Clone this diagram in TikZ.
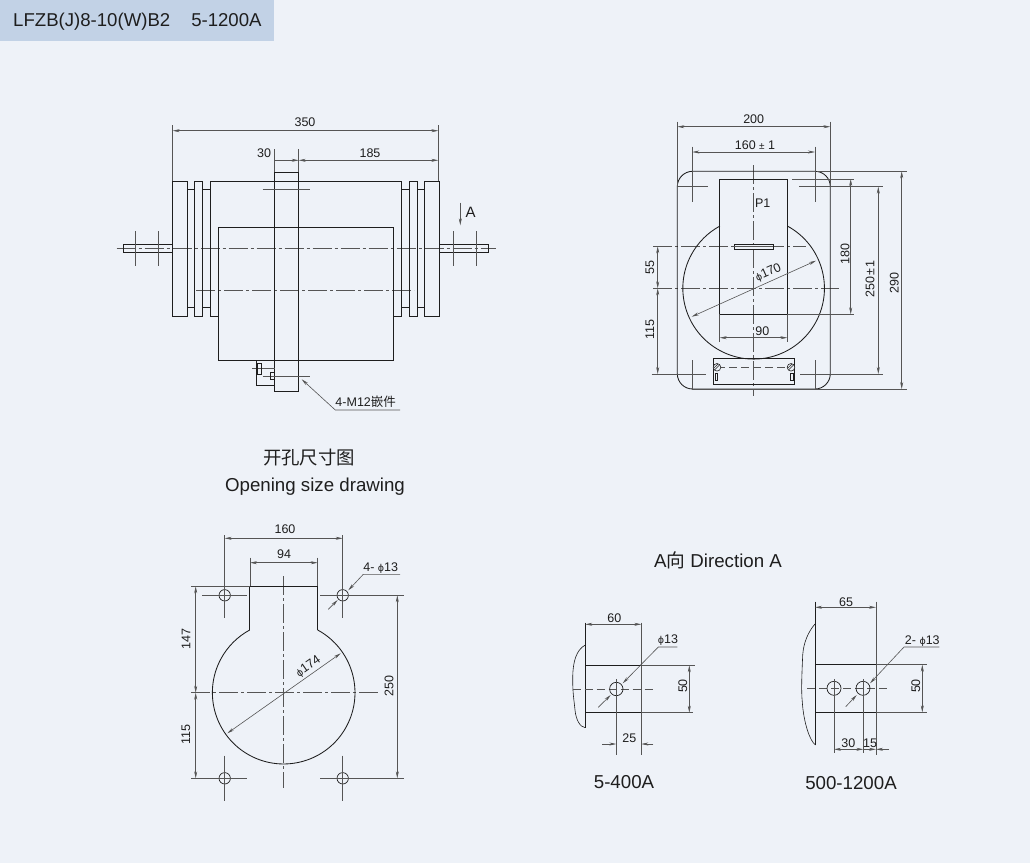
\documentclass[tikz,border=0pt]{standalone}
\usepackage{fontspec}
\setmainfont{Liberation Sans}
\newfontfamily\cjkfont{Noto Sans CJK SC}
\newfontfamily\symbfont{DejaVu Sans}
\newcommand{\dia}{{\symbfont\fontsize{9.5}{10}\selectfont ϕ}}
\usetikzlibrary{arrows.meta}
\definecolor{bgc}{HTML}{EEF2F8}
\definecolor{banner}{HTML}{C2D2E6}
\definecolor{ink}{HTML}{1E1E1E}
\definecolor{soft}{HTML}{555555}
\tikzset{
 obj/.style={draw=ink,line width=.85pt},
 thinl/.style={draw=soft,line width=.6pt},
 ctr/.style={draw=soft,line width=.55pt,dash pattern=on 19pt off 3pt on 3pt off 3pt},
 dsh/.style={draw=soft,line width=.55pt,dash pattern=on 8pt off 4pt},
 dimen/.style={draw=soft,line width=.6pt,{Stealth[length=7pt,width=3pt]}-{Stealth[length=7pt,width=3pt]}},
 arr/.style={draw=soft,line width=.6pt,-{Stealth[length=7pt,width=3pt]}},
 lbl/.style={inner sep=0pt,text=ink,font=\fontsize{12.5}{14}\selectfont},
 vlbl/.style={lbl,rotate=90},
 captxt/.style={inner sep=0pt,text=ink,font=\fontsize{18.7}{21}\selectfont},
}
\begin{document}
\begin{tikzpicture}[x=1pt,y=-1pt]
\useasboundingbox (0,0) rectangle (1030,863);
\fill[bgc] (0,0) rectangle (1030,863);
\fill[banner] (0,0) rectangle (274,41);
\node[captxt,anchor=west,font=\fontsize{18.6}{21}\selectfont] (title) at (13,22) {LFZB(J)8-10(W)B2\hspace{21pt}5-1200A};

% ---------- side view
\draw[ctr] (116.7,248.3) -- (496,248.3);
\draw[ctr] (196,290.3) -- (414,290.3);
\draw[obj] (172.7,181) rectangle (187.3,316.3);
\draw[obj] (194.3,181) rectangle (202.7,316.3);
\draw[obj] (424.7,181) rectangle (439,316.3);
\draw[obj] (409.3,181) rectangle (417.3,316.3);
\draw[obj] (187.3,189) -- (194.3,189) (187.3,307.7) -- (194.3,307.7);
\draw[obj] (202.7,189) -- (210,189) (202.7,307.7) -- (210,307.7);
\draw[obj] (401.7,189) -- (409.3,189) (401.7,307.7) -- (409.3,307.7);
\draw[obj] (417.3,189) -- (424.7,189) (417.3,307.7) -- (424.7,307.7);
\draw[obj] (218,316.3) -- (210,316.3) -- (210,181) -- (401.7,181) -- (401.7,316.3) -- (393.3,316.3);
\draw[obj] (218,227.3) rectangle (393.3,360.3);
\filldraw[obj,fill=none] (274.7,172.3) rectangle (298.7,391);
\draw[obj] (123.3,244) rectangle (172.7,252.7);
\draw[obj] (439,244) rectangle (488.7,252.7);
\draw[thinl] (135,231) -- (135,265.7) (158.7,231) -- (158.7,265.7);
\draw[thinl] (453,231) -- (453,265.7) (476.7,231) -- (476.7,265.7);
\draw[thinl] (262.7,189) -- (310,189);
\draw[thinl] (262.7,376) -- (310,376);
\draw[thinl] (252.3,368.7) -- (274.7,368.7);
\draw[obj,line width=.6pt] (256,360.3) -- (256,385.7) -- (274.7,385.7);
\draw[obj,line width=.6pt] (257,363.3) rectangle (261.3,374);
\draw[obj,line width=.6pt] (274.7,372.3) -- (270.7,372.3) -- (270.7,379.3) -- (274.7,379.3);
\draw[thinl] (172.7,125) -- (172.7,181) (438.3,125) -- (438.3,181);
\draw[dimen] (172.7,130.7) -- (438.3,130.7);
\node[lbl] (d350) at (305,122.3) {350};
\draw[thinl] (274.7,149.3) -- (274.7,172.3) (298.7,149.3) -- (298.7,172.3);
\draw[arr] (274.7,160.3) -- (298.7,160.3);
\draw[dimen] (298.7,160.3) -- (438.3,160.3);
\node[lbl] (d30) at (264,152.7) {30};
\node[lbl] (d185) at (370,152.7) {185};
\draw[arr] (460.3,202.7) -- (460.3,225.3);
\node[lbl,font=\fontsize{15}{17}\selectfont] (dirA) at (470.7,212.7) {A};
\coordinate (lead1) at (400,410);
\coordinate (lead2) at (335.3,410);
\coordinate (lead3) at (301.7,379.3);
\draw[arr] (lead1) -- (lead2) -- (lead3);
\node[lbl] (m12) at (365.7,402) {4-M12{\cjkfont 嵌件}};

% ---------- end view
\draw[ctr] (753.7,165) -- (753.7,396);
\draw[ctr] (653.3,288.3) -- (839.3,288.3);
\draw[ctr] (653.3,246.3) -- (805.7,246.3);
\draw[obj] (692.3,171.3) -- (815,171.3) arc[start angle=-90,end angle=0,radius=15.3] -- (830.3,373.7) arc[start angle=0,end angle=90,radius=15.3] -- (692.6,389) arc[start angle=90,end angle=180,radius=15.3] -- (677.3,186.6) arc[start angle=180,end angle=270,radius=15.3] -- cycle;
\draw[obj] (719.7,179) rectangle (787.3,314.3);
\draw[obj] (787.3,226) arc[start angle=-61.6,end angle=241.6,radius=70.8];
\fill[bgc] (734.3,244) rectangle (773.3,249.7);
\draw[obj] (734.3,244) rectangle (773.3,249.7);
\draw[thinl] (734.3,246.3) -- (773.3,246.3);
\draw[obj] (713.3,358.3) rectangle (794,384.3);
\draw[dsh] (717,367.3) -- (791,367.3);
\draw[obj,line width=.6pt] (715,373.3) rectangle (717.7,380);
\draw[obj,line width=.6pt] (790,373.3) rectangle (793,380);
\draw[obj,line width=.6pt,fill=bgc] (717,367.3) circle[radius=3.8] (791,367.3) circle[radius=3.8];
\draw[obj,line width=.5pt] (714.5,370) -- (719.5,365) (713.8,368) -- (718,364) (788.5,370) -- (793.5,365) (787.8,368) -- (792,364);
\draw[thinl] (677.3,186.7) -- (707.7,186.7) (799.3,186.7) -- (882.7,186.7);
\draw[thinl] (651.7,374) -- (706,374) (800,374) -- (882.7,374);
\draw[thinl] (692.3,146.7) -- (692.3,201.7) (815,146.7) -- (815,201.7);
\draw[thinl] (692.3,360) -- (692.3,389) (815,360) -- (815,389);
\draw[thinl] (677.3,121.7) -- (677.3,186.7) (830.3,121.7) -- (830.3,186.7);
\draw[dimen] (677.3,126.7) -- (830.3,126.7);
\node[lbl] (e200) at (753.7,119) {200};
\draw[dimen] (692.3,152) -- (815,152);
\node[lbl] (e160) at (755,144.7) {160 {\fontsize{10}{10}\selectfont ±} 1};
\draw[thinl] (792.3,179) -- (854,179) (787.3,314.3) -- (854,314.3);
\draw[dimen] (850.7,179) -- (850.7,314.3);
\node[vlbl] (e180) at (845,254) {180};
\draw[dimen] (878.3,186.7) -- (878.3,374);
\node[vlbl] (e250) at (870,279.3) {250\kern1pt±\kern1pt1};
\draw[thinl] (816.7,171.3) -- (907.3,171.3) (692.3,389) -- (907.3,389);
\draw[dimen] (901.7,171.3) -- (901.7,389);
\node[vlbl] (e290) at (894.3,282.7) {290};
\draw[dimen] (657.7,246.3) -- (657.7,288.3);
\node[vlbl] (e55) at (650,267.3) {55};
\draw[dimen] (657.7,288.3) -- (657.7,374);
\node[vlbl] (e115) at (650,330) {115};
\draw[thinl] (719.7,314.3) -- (719.7,341.7) (787.3,314.3) -- (787.3,341.7);
\draw[dimen] (719.7,337.7) -- (787.3,337.7);
\node[lbl] (e90) at (762.3,331) {90};
\draw[dimen] (691.7,316.7) -- (816,260.7);
\node[lbl,rotate=24] (e170) at (768.3,272.7) {\dia170};
\node[lbl] (p1) at (762.7,203.3) {P1};

% ---------- captions
\node[captxt,font=\fontsize{18.4}{21}\cjkfont\selectfont] (c1) at (309,458) {开孔尺寸图};
\node[captxt] (c2) at (315,486.5) {Opening size drawing};
\node[captxt] (c3) at (718,560) {A{\cjkfont 向} Direction A};
\node[captxt] (c4) at (624,782) {5-400A};
\node[captxt] (c5) at (851,783) {500-1200A};

% ---------- opening
\draw[ctr] (283.7,576) -- (283.7,788.3);
\draw[ctr] (191,692.7) -- (378.3,692.7);
\draw[obj] (249.7,630) -- (249.7,586.3) -- (317.7,586.3) -- (317.7,630);
\draw[obj] (317.7,630) arc[start angle=-61.5,end angle=241.5,radius=71.3];
\foreach \n/\x/\y in {a/224.7/595.3,b/342.7/595.3,c/224.7/778.3,d/342.7/778.3}
  \draw[obj,line width=.7pt] (\x,\y) circle[radius=5.7];
\draw[thinl] (202,595.3) -- (246.7,595.3) (224.7,535) -- (224.7,617.7);
\draw[thinl] (320,595.3) -- (404,595.3) (342.7,535) -- (342.7,617.7);
\draw[thinl] (191,778.3) -- (246.7,778.3) (224.7,755.7) -- (224.7,800.7);
\draw[thinl] (320,778.3) -- (404,778.3) (342.7,755.7) -- (342.7,800.7);
\draw[dimen] (224.7,538.3) -- (342.7,538.3);
\node[lbl] (o160) at (285,529.3) {160};
\draw[thinl] (250,557.7) -- (250,586.3) (317.7,557.7) -- (317.7,586.3);
\draw[dimen] (250,562.7) -- (317.7,562.7);
\node[lbl] (o94) at (284,554.3) {94};
\draw[thinl] (191,586.3) -- (249.7,586.3);
\draw[dimen] (195.7,586.3) -- (195.7,692.7);
\draw[dimen] (195.7,692.7) -- (195.7,778.3);
\node[vlbl] (o147) at (186,639) {147};
\node[vlbl] (o115) at (186,734.3) {115};
\draw[dimen] (397.3,595.3) -- (397.3,778.3);
\node[vlbl] (o250) at (389,686) {250};
\draw[dimen] (227.3,733.3) -- (340.7,653.3);
\node[lbl,rotate=35] (o174) at (308.3,666.7) {\dia174};
\draw[arr] (400,574.3) -- (363.3,574.3) -- (348.3,590.3);
\draw[arr] (328.3,609.3) -- (337.7,600);
\node[lbl] (o13) at (380.7,568.3) {4- \dia13};

% ---------- direction A, 5-400A
\draw[obj] (585.3,665.3) -- (641.3,665.3) -- (641.3,712.7) -- (585.3,712.7);
\draw[obj] (585.3,622.7) -- (585.3,727.7);
\draw[obj,line width=.6pt] (585.3,645) .. controls (576,650) and (573,662) .. (572.7,677) .. controls (572.5,692) and (574,700) .. (575,710) .. controls (576,720) and (580,727) .. (585.3,727.7);
\draw[dsh] (572.7,689) -- (655,689);
\draw[obj,line width=.7pt] (616.3,689) circle[radius=6.7];
\draw[thinl] (616.3,679.3) -- (616.3,755) (641.3,622.7) -- (641.3,755);
\draw[dimen] (585.3,624.3) -- (641.3,624.3);
\node[lbl] (a60) at (614.3,618.3) {60};
\draw[thinl] (641.3,665.3) -- (695,665.3) (641.3,712.7) -- (693,712.7);
\draw[dimen] (689.3,665.3) -- (689.3,712.7);
\node[vlbl] (a50) at (682.7,686) {50};
\draw[arr] (602.3,744) -- (616.3,744);
\draw[arr] (653.3,744) -- (641.3,744);
\node[lbl] (a25) at (629.3,738) {25};
\draw[arr] (677.3,647) -- (658.3,647) -- (622.7,683.3);
\draw[arr] (598.3,707.3) -- (610.7,695);
\node[lbl] (a13) at (668,640) {\dia13};

% ---------- direction A, 500-1200A
\draw[obj] (815.7,664.7) -- (876,664.7) -- (876,712.3) -- (815.7,712.3);
\draw[obj] (815,601.7) -- (815,745);
\draw[obj,line width=.6pt] (815,624) .. controls (808,632) and (803.5,643) .. (802.7,655) .. controls (802,672) and (801,690) .. (802.3,702) .. controls (803.5,722) and (810,742) .. (815.7,745);
\draw[dsh] (807.3,688.3) -- (889.3,688.3);
\draw[obj,line width=.7pt] (834,688.3) circle[radius=7] (863,688.3) circle[radius=7];
\draw[thinl] (834,679.3) -- (834,753.3) (863.3,679.3) -- (863.3,753.3) (876,601.7) -- (876,755);
\draw[dimen] (815,607.3) -- (876,607.3);
\node[lbl] (b65) at (846,602) {65};
\draw[thinl] (876,664.7) -- (926.7,664.7) (876,712.3) -- (926.7,712.3);
\draw[dimen] (922.3,664.7) -- (922.3,712.3);
\node[vlbl] (b50) at (915.7,686) {50};
\draw[dimen] (834,749.3) -- (863.3,749.3);
\draw[arr] (863.3,749.3) -- (876,749.3);
\draw[arr] (889,749.3) -- (876,749.3);
\node[lbl] (b30) at (848.3,743) {30};
\node[lbl] (b15) at (870,743) {15};
\draw[arr] (939.3,647) -- (904,647) -- (870,683.3);
\draw[arr] (845.7,706.7) -- (856.7,695);
\node[lbl] (b13) at (922.3,641) {2- \dia13};
\end{tikzpicture}
\end{document}
